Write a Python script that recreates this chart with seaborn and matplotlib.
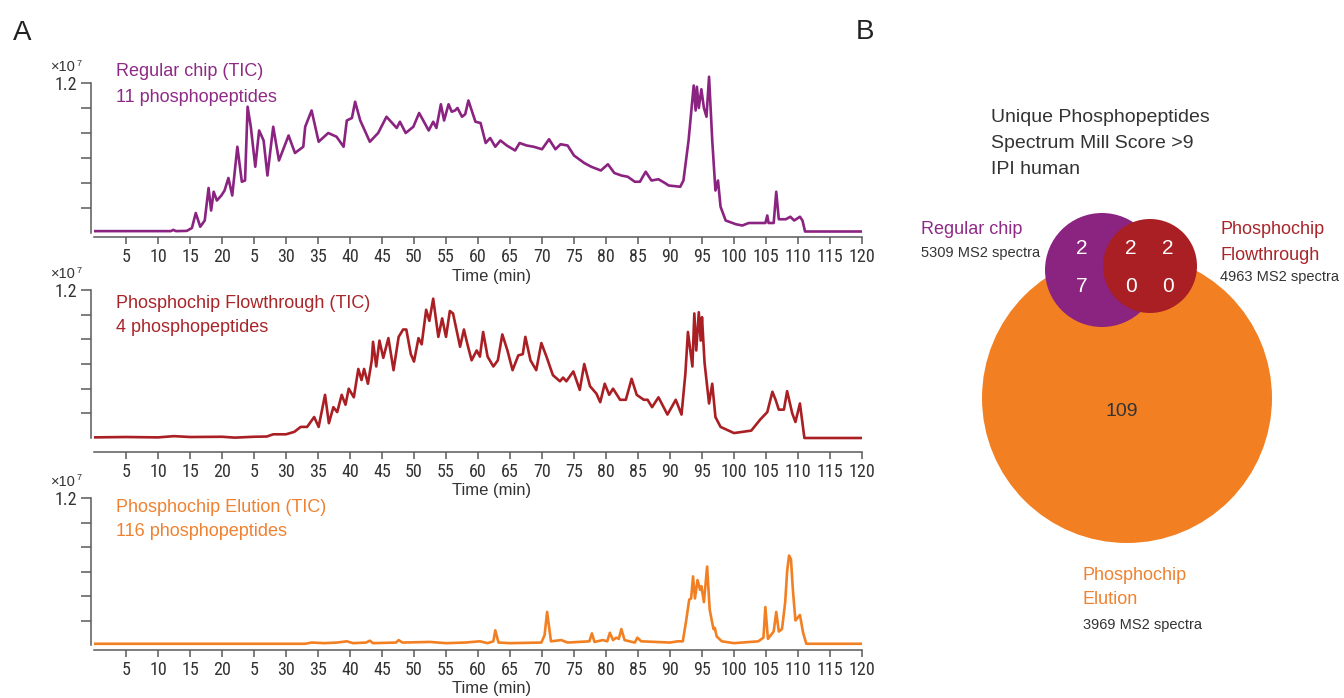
import numpy as np
import pandas as pd
import matplotlib
matplotlib.use("Agg")
import matplotlib.pyplot as plt
from matplotlib.patches import Circle
from matplotlib import font_manager
import seaborn as sns

# ---------------- data ----------------
regular_tic = [
    (0, 0.015), (12.0, 0.015), (12.4, 0.025), (12.8, 0.015), (14.5, 0.017), (15.3, 0.04),
    (15.9, 0.16), (16.6, 0.05), (17.3, 0.10), (17.9, 0.36), (18.3, 0.18), (18.7, 0.33),
    (19.2, 0.26), (19.9, 0.30), (20.4, 0.34), (21.0, 0.44), (21.6, 0.30), (22.4, 0.69),
    (23.1, 0.41), (23.6, 0.42), (24.0, 1.01), (24.5, 0.85), (25.2, 0.53), (25.8, 0.82),
    (26.5, 0.74), (27.1, 0.46), (28.0, 0.85), (28.9, 0.58), (30.4, 0.78), (31.4, 0.64),
    (32.7, 0.69), (33.0, 0.85), (34.0, 0.98), (35.1, 0.73), (36.6, 0.80), (37.9, 0.77),
    (39.0, 0.69), (39.5, 0.90), (40.3, 0.92), (40.8, 1.05), (41.6, 0.90), (43.1, 0.73),
    (44.4, 0.80), (45.7, 0.93), (47.3, 0.84), (47.8, 0.89), (48.7, 0.80), (49.9, 0.85),
    (50.8, 0.96), (52.3, 0.82), (53.0, 0.89), (53.5, 0.84), (54.2, 1.03), (54.7, 0.90),
    (55.4, 1.03), (55.9, 0.97), (56.4, 0.98), (56.8, 1.00), (57.5, 0.93), (58.0, 0.95),
    (58.5, 1.06), (59.6, 0.89), (60.4, 0.88), (61.2, 0.72), (61.9, 0.76), (62.7, 0.69),
    (63.5, 0.74), (64.5, 0.70), (65.8, 0.66), (66.5, 0.72), (67.6, 0.70), (68.7, 0.69),
    (70.0, 0.67), (71.1, 0.75), (72.1, 0.67), (72.9, 0.71), (74.0, 0.70), (75.0, 0.62),
    (76.6, 0.56), (77.7, 0.53), (79.2, 0.50), (80.3, 0.55), (81.3, 0.48), (82.4, 0.46),
    (83.4, 0.45), (84.5, 0.41), (85.3, 0.41), (86.2, 0.49), (87.1, 0.42), (88.2, 0.43),
    (89.2, 0.40), (89.8, 0.38), (91.6, 0.37), (92.1, 0.42), (92.9, 0.74), (93.7, 1.18),
    (94.0, 0.98), (94.2, 1.17), (94.5, 1.00), (94.9, 1.15), (95.3, 1.00), (95.7, 0.93),
    (96.1, 1.25), (96.6, 0.74), (97.1, 0.34), (97.5, 0.42), (97.9, 0.21), (98.7, 0.10),
    (100.3, 0.07), (101.3, 0.06), (102.3, 0.08), (103.4, 0.08), (104.9, 0.08), (105.2, 0.14),
    (105.4, 0.08), (106.2, 0.08), (106.6, 0.33), (107.0, 0.11), (108.1, 0.11), (108.8, 0.13),
    (109.4, 0.10), (110.3, 0.13), (110.7, 0.10), (111.1, 0.012), (120, 0.012),
]

flowthrough_tic = [
    (0, 0.005), (5, 0.008), (10, 0.005), (12.5, 0.015), (15, 0.008), (20, 0.01), (22, 0.003),
    (25, 0.01), (27, 0.012), (28, 0.03), (30, 0.03), (31.3, 0.05), (32.3, 0.09), (33.3, 0.09),
    (34.4, 0.17), (35.1, 0.09), (36.1, 0.35), (36.7, 0.12), (37.4, 0.25), (38.0, 0.21),
    (38.7, 0.35), (39.3, 0.27), (39.8, 0.40), (40.6, 0.33), (41.3, 0.56), (41.8, 0.47),
    (42.2, 0.56), (42.8, 0.44), (43.4, 0.63), (43.6, 0.78), (44.1, 0.58), (44.6, 0.79),
    (45.2, 0.65), (46.0, 0.81), (46.8, 0.55), (47.6, 0.82), (48.3, 0.88), (48.8, 0.88),
    (49.5, 0.68), (50.0, 0.62), (50.7, 0.81), (51.2, 0.76), (51.9, 1.04), (52.4, 0.95),
    (53.0, 1.13), (53.8, 0.82), (54.4, 0.97), (55.0, 0.82), (55.6, 1.03), (56.1, 1.01),
    (57.2, 0.74), (57.8, 0.88), (58.3, 0.77), (59.0, 0.63), (59.8, 0.71), (60.3, 0.66),
    (60.8, 0.86), (61.5, 0.66), (62.4, 0.58), (63.1, 0.63), (63.8, 0.84), (64.6, 0.71),
    (65.4, 0.55), (66.3, 0.67), (67.0, 0.68), (67.4, 0.82), (68.2, 0.63), (69.1, 0.55),
    (69.9, 0.77), (70.7, 0.66), (71.7, 0.51), (72.8, 0.46), (73.3, 0.49), (73.8, 0.46),
    (74.9, 0.54), (75.9, 0.39), (76.6, 0.60), (77.5, 0.42), (78.5, 0.36), (79.1, 0.29),
    (79.8, 0.44), (80.5, 0.35), (81.1, 0.40), (82.2, 0.31), (83.1, 0.31), (84.0, 0.48),
    (84.8, 0.35), (85.9, 0.31), (86.5, 0.31), (87.2, 0.25), (88.2, 0.33), (89.6, 0.19),
    (90.9, 0.31), (91.8, 0.19), (92.4, 0.52), (92.8, 0.86), (93.5, 0.58), (93.8, 1.01),
    (94.1, 0.71), (94.5, 1.02), (94.8, 0.79), (95.0, 0.98), (95.4, 0.61), (96.1, 0.28),
    (96.6, 0.44), (97.1, 0.17), (97.9, 0.09), (100.0, 0.04), (102.7, 0.06), (104.1, 0.15),
    (105.2, 0.21), (106.0, 0.375), (106.5, 0.31), (107.0, 0.23), (107.8, 0.23), (108.3, 0.38),
    (109.1, 0.20), (109.6, 0.13), (110.3, 0.28), (111.0, 0.0), (120, 0.0),
]

elution_tic = [
    (0, 0.01), (33, 0.01), (34, 0.02), (36, 0.015), (38, 0.02), (39.5, 0.03), (40.5, 0.015),
    (42.5, 0.02), (43.1, 0.035), (43.6, 0.015), (47.2, 0.02), (47.6, 0.04), (48.2, 0.02),
    (52.5, 0.025), (55, 0.015), (58, 0.02), (60.3, 0.03), (61.5, 0.015), (62.4, 0.03),
    (62.7, 0.12), (63.2, 0.02), (65, 0.015), (69.9, 0.02), (70.4, 0.08), (70.8, 0.27),
    (71.4, 0.03), (73.0, 0.04), (74, 0.02), (77.4, 0.03), (77.8, 0.095), (78.2, 0.025),
    (79.5, 0.04), (80.2, 0.03), (80.6, 0.10), (81.1, 0.04), (81.6, 0.06), (82.0, 0.05),
    (82.4, 0.13), (82.9, 0.04), (84.5, 0.02), (84.9, 0.06), (85.5, 0.03), (90, 0.02),
    (91.2, 0.03), (92.0, 0.03), (92.5, 0.19), (93.0, 0.37), (93.3, 0.38), (93.6, 0.56),
    (93.9, 0.38), (94.3, 0.53), (94.7, 0.45), (94.9, 0.48), (95.3, 0.35), (95.8, 0.64),
    (96.2, 0.29), (96.6, 0.18), (96.8, 0.13), (97.0, 0.14), (97.3, 0.07), (98.1, 0.03),
    (100, 0.015), (103.8, 0.03), (104.6, 0.06), (104.9, 0.31), (105.3, 0.05), (106.2, 0.11),
    (106.6, 0.27), (107.0, 0.11), (107.5, 0.13), (108.0, 0.35), (108.3, 0.60), (108.6, 0.73),
    (108.9, 0.70), (109.2, 0.45), (109.6, 0.20), (110.3, 0.245), (110.8, 0.10), (111.3, 0.01),
    (120, 0.01),
]

panel_titles = ["Regular chip (TIC)", "Phosphochip Flowthrough (TIC)", "Phosphochip Elution (TIC)"]
panel_counts = ["11 phosphopeptides", "4 phosphopeptides", "116 phosphopeptides"]
x_ticks = list(range(5, 121, 5))
x_tick_labels = ["5", "10", "15", "20", "5", "30", "35", "40", "45", "50", "55", "60",
                 "65", "70", "75", "80", "85", "90", "95", "100", "105", "110", "115", "120"]
y_ticks = [0.2, 0.4, 0.6, 0.8, 1.0, 1.2]
y_tick_labels = ["", "", "", "", "", "1.2"]
x_label = "Time (min)"

venn_title = ["Unique Phosphopeptides", "Spectrum Mill Score >9", "IPI human"]
venn_sets = ["Regular chip", "Phosphochip\nFlowthrough", "Phosphochip\nElution"]
venn_spectra = ["5309 MS2 spectra", "4963 MS2 spectra", "3969 MS2 spectra"]
venn_region_labels = ["27", "20", "20"]   # drawn as stacked digits
venn_elution_only = "109"

# ---------------- style ----------------
sns.set_theme(style="white")
plt.rcParams["font.family"] = ["Liberation Sans", "DejaVu Sans"]


def pick_font(cands):
    for c in cands:
        try:
            font_manager.findfont(font_manager.FontProperties(family=c), fallback_to_default=False)
            return c
        except Exception:
            continue
    return "Liberation Sans"


NARROW = pick_font(["Liberation Sans Narrow", "Roboto Condensed", "Open Sans Condensed",
                    "Liberation Sans"])
narrow_size = 13 if NARROW != "Liberation Sans" else 11.5

PURPLE = "#8B2381"
RED = "#A91F24"
ORANGE = "#F28023"
PURPLE_T = "#8E2A86"
RED_T = "#A8252A"
ORANGE_T = "#EE8232"
DARK = "#333333"
SPINE = "#5a5a5a"

W, H = 1344, 698
fig = plt.figure(figsize=(W / 100, H / 100), dpi=100)


def fx(px):
    return px / W


def fy(py):
    return 1 - py / H


# layout of each chromatogram panel: (zero_px, px_per_unit, x_spine_px)
panels = [
    (regular_tic, PURPLE, PURPLE_T, (233, 125.0, 237), (72, 97)),
    (flowthrough_tic, RED, RED_T, (438, 123.3, 452), (303, 328)),
    (elution_tic, ORANGE, ORANGE_T, (645, 122.5, 650), (507, 532)),
]
X0_PX, X1_PX = 94, 862
YTOP = 1.30

for i, (trace, col, tcol, (zero_px, ppu, spine_px), (ty1, ty2)) in enumerate(panels):
    ylo = -(spine_px - zero_px) / ppu
    top_px = zero_px - YTOP * ppu
    ax = fig.add_axes([fx(X0_PX), fy(spine_px), fx(X1_PX - X0_PX), (spine_px - top_px) / H])
    df = pd.DataFrame(trace, columns=["time", "tic"])
    sns.lineplot(data=df, x="time", y="tic", ax=ax, color=col, lw=1.9,
                 estimator=None, sort=False, legend=False)
    ax.set_xlim(0, 120)
    ax.set_ylim(ylo, YTOP)
    ax.patch.set_alpha(0)
    for s in ["top", "right"]:
        ax.spines[s].set_visible(False)
    for s in ["left", "bottom"]:
        ax.spines[s].set_color(SPINE)
        ax.spines[s].set_linewidth(1.1)
    ax.spines["left"].set_bounds(0, 1.2)
    ax.spines["left"].set_position(("outward", 2))
    ax.set_xticks(x_ticks)
    ax.set_xticklabels(x_tick_labels, fontfamily=NARROW, fontsize=narrow_size, color=DARK)
    ax.set_yticks(y_ticks)
    ax.set_yticklabels(y_tick_labels, fontfamily=NARROW, fontsize=narrow_size, color=DARK)
    ax.tick_params(axis="x", direction="out", length=5, width=1.1, color=SPINE, pad=3, bottom=True)
    ax.tick_params(axis="y", direction="out", length=7, width=1.1, color=SPINE, pad=3, left=True)
    ax.set_ylabel("")
    ax.set_xlabel(x_label, fontsize=12, color=DARK)
    ax.xaxis.label.set_va("center")
    ax.xaxis.set_label_coords(fx(492), fy(spine_px + 39), transform=fig.transFigure)
    ax.grid(False)

    # x10^7 multiplier
    y12 = zero_px - 1.2 * ppu
    fig.text(fx(76), fy(y12 - 16), "×10", ha="right", va="center", fontsize=10.5, color=DARK)
    fig.text(fx(76.5), fy(y12 - 20), "7", ha="left", va="center", fontsize=6.5, color=DARK)

    # panel titles
    fig.text(fx(116), fy(ty1), panel_titles[i], ha="left", va="center", fontsize=13, color=tcol)
    fig.text(fx(116), fy(ty2), panel_counts[i], ha="left", va="center", fontsize=13, color=tcol)

# panel letters
fig.text(fx(22), fy(33), "A", ha="center", va="center", fontsize=20, color="#222222")
fig.text(fx(865), fy(32), "B", ha="center", va="center", fontsize=20, color="#222222")

# ---------------- Venn diagram ----------------
axv = fig.add_axes([fx(880), 0, fx(W - 880), 1])
axv.set_xlim(880, W)
axv.set_ylim(H, 0)
axv.axis("off")
axv.add_patch(Circle((1127, 398), 145, color=ORANGE, lw=0, zorder=1))
axv.add_patch(Circle((1102, 270), 57, color=PURPLE, lw=0, zorder=2))
axv.add_patch(Circle((1150, 266), 47, color=RED, lw=0, zorder=3))

for lab, x in zip(venn_region_labels, [1082, 1131, 1168]):
    for k, ch in enumerate(lab):
        axv.text(x, 249 + 38 * k, ch, ha="center", va="center", fontsize=15,
                 color="white", zorder=5)
axv.text(1122, 412, venn_elution_only, ha="center", va="center", fontsize=14,
         color=DARK, zorder=5)

for k, line in enumerate(venn_title):
    axv.text(991, 117 + 26.5 * k, line, ha="left", va="center", fontsize=14, color=DARK)

# set labels
axv.text(921, 230, venn_sets[0], ha="left", va="center", fontsize=13, color=PURPLE_T)
axv.text(921, 253, venn_spectra[0], ha="left", va="center", fontsize=10.5, color=DARK)
for k, line in enumerate(venn_sets[1].split("\n")):
    axv.text(1220, 230 + 25 * k, line, ha="left", va="center", fontsize=13, color=RED_T)
axv.text(1220, 277, venn_spectra[1], ha="left", va="center", fontsize=10.5, color=DARK)
for k, line in enumerate(venn_sets[2].split("\n")):
    axv.text(1083, 575 + 25 * k, line, ha="left", va="center", fontsize=13, color=ORANGE_T)
axv.text(1083, 625, venn_spectra[2], ha="left", va="center", fontsize=10.5, color=DARK)

fig.savefig("out.png", dpi=100)
